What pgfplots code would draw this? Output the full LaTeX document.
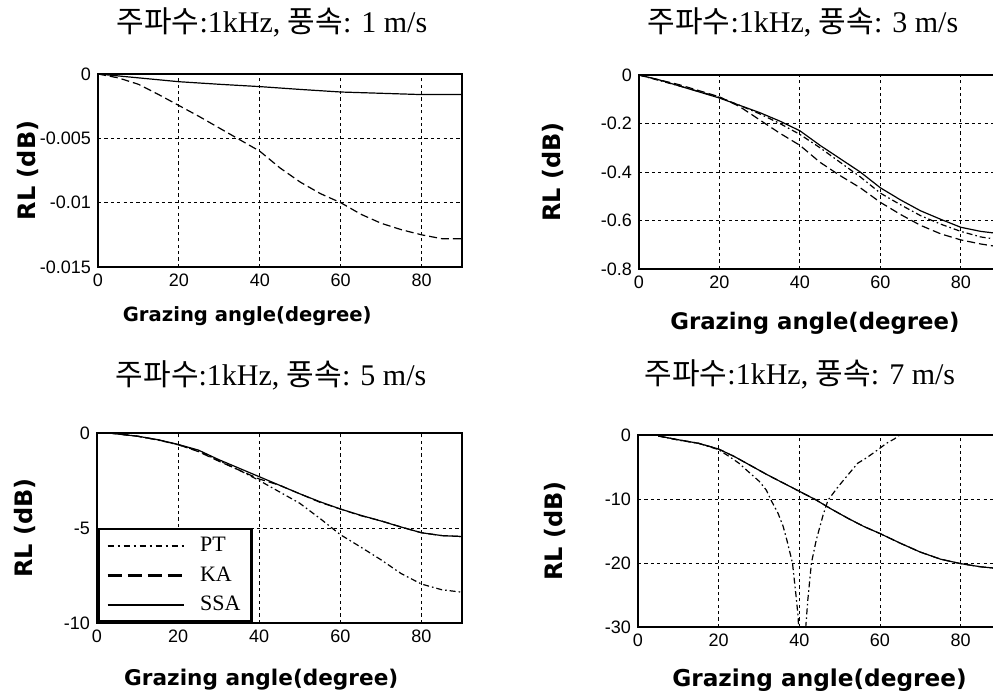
\documentclass[border=0pt]{standalone}
\usepackage{pgfplots}
\pgfplotsset{compat=1.18}
\usepackage{fontspec}
\setmainfont{Liberation Serif}
\newfontfamily\kr{Noto Sans CJK KR}
\newfontfamily\lab{DejaVu Sans}
\newfontfamily\tck{Liberation Sans}

\pgfplotsset{
  panel/.style={
    scale only axis, anchor=south west,
    xmin=0, xmax=90,
    xtick={0,20,40,60,80}, xticklabels={0,20,40,60,80},
    scaled y ticks=false, scaled x ticks=false,
    grid=major,
    grid style={black, line width=0.4pt, dash pattern=on 1.6pt off 1.6pt},
    axis line style={black, line width=0.9pt},
    major tick length=0pt,
    ticklabel style={font=\tck\fontsize{9}{10}\selectfont},
    /pgf/number format/assume math mode=true,
    ylabel={RL (dB)},
    xlabel={Grazing angle(degree)},
    ylabel style={font=\lab\bfseries\fontsize{12}{14}\selectfont, anchor=center},
    title style={font=\fontsize{15}{17}\selectfont, anchor=center},
    every axis plot/.append style={black, line width=0.6pt},
    clip=true,
  },
  pt/.style={black, line width=0.6pt, dash pattern=on 3pt off 1.5pt on 0.8pt off 1.5pt},
  ka/.style={black, line width=0.6pt, dash pattern=on 4pt off 2pt},
  ssa/.style={black, line width=0.6pt},
}

\begin{document}
\begin{tikzpicture}
\useasboundingbox (0pt,0pt) rectangle (496.5pt,347.5pt);

% ---------- Panel 1 : 1 m/s ----------
\begin{axis}[panel, at={(49pt,214pt)}, width=182pt, height=96.5pt,
  ymin=-0.015, ymax=0,
  ytick={-0.015,-0.01,-0.005,0}, yticklabels={-0.015,-0.01,-0.005,0},
  title={{\kr 주파수}:1kHz, {\kr 풍속}: 1 m/s},
  title style={at={(axis description cs:0.478,1.207)}},
  xlabel style={at={(axis description cs:0.41,-0.254)}, anchor=center, font=\lab\bfseries\fontsize{9.8}{12}\selectfont},
  ylabel style={at={(axis description cs:-0.192,0.5)}},
]
\addplot[ssa] coordinates {(0,0) (10,-0.0003) (20,-0.0006) (30,-0.0008) (40,-0.00098) (50,-0.0012) (60,-0.0014) (70,-0.0015) (80,-0.0016) (90,-0.0016)};
\addplot[ka] coordinates {(0,0) (5,-0.0003) (10,-0.0008) (15,-0.0016) (20,-0.00245) (25,-0.0033) (30,-0.0042) (35,-0.0051) (40,-0.006) (45,-0.0073) (50,-0.0084) (55,-0.0093) (60,-0.01) (65,-0.0109) (70,-0.0116) (75,-0.0121) (80,-0.0125) (85,-0.0128) (90,-0.0128)};
\end{axis}

% ---------- Panel 2 : 3 m/s ----------
\begin{axis}[panel, at={(319.5pt,213pt)}, width=181pt, height=97pt,
  ymin=-0.8, ymax=0,
  ytick={-0.8,-0.6,-0.4,-0.2,0}, yticklabels={-0.8,-0.6,-0.4,-0.2,0},
  title={{\kr 주파수}:1kHz, {\kr 풍속}: 3 m/s},
  title style={at={(axis description cs:0.453,1.211)}},
  xlabel style={at={(axis description cs:0.486,-0.278)}, anchor=center, font=\lab\bfseries\fontsize{11.4}{13}\selectfont},
  ylabel style={at={(axis description cs:-0.2376,0.5)}},
]
\addplot[pt] coordinates {(0,0) (10,-0.045) (20,-0.092) (25,-0.125) (30,-0.16) (35,-0.2) (40,-0.245) (45,-0.3) (50,-0.36) (55,-0.42) (60,-0.487) (65,-0.535) (70,-0.58) (75,-0.615) (80,-0.645) (85,-0.668) (90,-0.68)};
\addplot[ka] coordinates {(0,0) (10,-0.04) (20,-0.09) (25,-0.13) (30,-0.185) (35,-0.24) (40,-0.29) (45,-0.36) (50,-0.415) (55,-0.465) (60,-0.525) (65,-0.575) (70,-0.62) (75,-0.655) (80,-0.68) (85,-0.697) (90,-0.71)};
\addplot[ssa] coordinates {(0,0) (5,-0.02) (10,-0.045) (15,-0.07) (20,-0.095) (25,-0.125) (30,-0.155) (35,-0.19) (40,-0.23) (45,-0.29) (50,-0.345) (55,-0.4) (60,-0.465) (65,-0.515) (70,-0.56) (75,-0.595) (80,-0.628) (85,-0.645) (90,-0.655)};
\end{axis}

% ---------- Panel 3 : 5 m/s ----------
\begin{axis}[panel, at={(48.5pt,36pt)}, width=182.5pt, height=95pt,
  ymin=-10, ymax=0,
  ytick={-10,-5,0}, yticklabels={-10,-5,0},
  title={{\kr 주파수}:1kHz, {\kr 풍속}: 5 m/s},
  title style={at={(axis description cs:0.477,1.242)}},
  xlabel style={at={(axis description cs:0.45,-0.3)}, anchor=center, font=\lab\bfseries\fontsize{10.8}{13}\selectfont},
  ylabel style={at={(axis description cs:-0.197,0.5)}},
  legend style={at={(0,0)}, anchor=south west, draw=black, line width=1.3pt, fill=white,
    font=\fontsize{11}{13}\selectfont, row sep=3pt, inner xsep=4pt, inner ysep=2.5pt,
    nodes={inner sep=1.5pt}, /tikz/every odd column/.style={column sep=6pt}},
  legend cell align=left,
  legend image code/.code={\draw[#1] (0pt,0pt) -- (38pt,0pt);},
]
\addplot[pt, forget plot] coordinates {(3,0) (10,-0.17) (15,-0.37) (20,-0.62) (25,-0.95) (30,-1.45) (35,-1.95) (40,-2.5) (45,-3.1) (50,-3.7) (55,-4.5) (60,-5.35) (65,-6.0) (70,-6.67) (75,-7.4) (80,-7.95) (85,-8.25) (90,-8.38)};
\addplot[ka, forget plot] coordinates {(3,0) (10,-0.17) (15,-0.36) (20,-0.61) (25,-0.98) (30,-1.48) (35,-1.95) (40,-2.42) (45,-2.75) (50,-3.2) (55,-3.65) (60,-4.0) (65,-4.35) (70,-4.62) (75,-4.95) (80,-5.25) (85,-5.4) (90,-5.45)};
\addplot[ssa, forget plot] coordinates {(3,0) (10,-0.17) (15,-0.35) (20,-0.6) (25,-0.9) (30,-1.4) (35,-1.85) (40,-2.3) (45,-2.75) (50,-3.2) (55,-3.62) (60,-4.0) (65,-4.33) (70,-4.63) (75,-4.95) (80,-5.25) (85,-5.4) (90,-5.45)};
\addlegendimage{black, line width=0.8pt, dash pattern=on 3pt off 2pt on 1pt off 2pt}
\addlegendentry{PT}
\addlegendimage{black, line width=1.4pt, dash pattern=on 7pt off 3pt}
\addlegendentry{KA}
\addlegendimage{black, line width=0.7pt}
\addlegendentry{SSA}
\end{axis}

% ---------- Panel 4 : 7 m/s ----------
\begin{axis}[panel, at={(319pt,34pt)}, width=181.5pt, height=96pt,
  ymin=-30, ymax=0,
  ytick={-30,-20,-10,0}, yticklabels={-30,-20,-10,0},
  title={{\kr 주파수}:1kHz, {\kr 풍속}: 7 m/s},
  title style={at={(axis description cs:0.446,1.255)}},
  xlabel style={at={(axis description cs:0.5,-0.276)}, anchor=center, font=\lab\bfseries\fontsize{11.6}{13}\selectfont},
  ylabel style={at={(axis description cs:-0.229,0.5)}},
]
\addplot[pt] coordinates {(5,-0.15) (10,-0.8) (15,-1.3) (20,-2.3) (22.7,-3.4) (25,-4.4) (27.3,-5.7) (30,-7.2) (31.8,-8.6) (33,-10.2) (34.7,-12.2) (36,-14.3) (36.9,-16.4) (38.3,-20) (38.8,-22.9) (39.3,-25.8) (39.7,-28.4) (40.5,-40) (41.6,-30) (42.1,-25.8) (43,-20) (44.2,-16.4) (45.9,-12.5) (47.1,-10.2) (49.6,-8.1) (51.7,-6.5) (54.5,-4.4) (56.6,-3.6) (59.5,-2.3) (61.6,-1.3) (63.6,-0.6) (66,0.5)};
\addplot[ka] coordinates {(5,-0.15) (10,-0.75) (15,-1.3) (20,-2.2) (24,-3.4) (28,-4.8) (32,-6.2) (36,-7.5) (40,-8.8) (44,-10.1) (48,-11.6) (52,-13.0) (56,-14.3) (60,-15.4) (65,-16.9) (70,-18.3) (75,-19.4) (80,-20.1) (85,-20.6) (90,-20.9)};
\addplot[ssa] coordinates {(5,-0.15) (10,-0.75) (15,-1.3) (20,-2.2) (24,-3.4) (28,-4.8) (32,-6.2) (36,-7.5) (40,-8.8) (44,-10.1) (48,-11.6) (52,-13.0) (56,-14.3) (60,-15.4) (65,-16.9) (70,-18.3) (75,-19.4) (80,-20.1) (85,-20.6) (90,-20.9)};
\end{axis}
\end{tikzpicture}
\end{document}
